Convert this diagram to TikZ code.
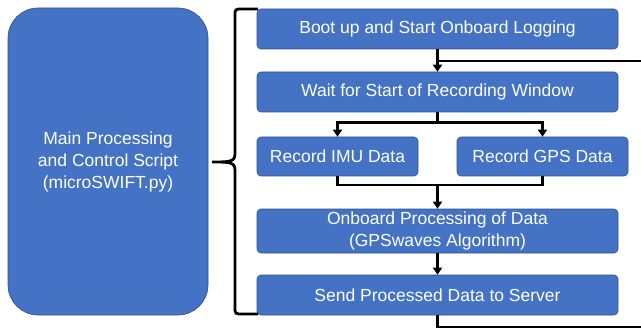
\documentclass[tikz,border=0pt]{standalone}
\usepackage{fontspec}
\setmainfont{Liberation Sans}
\usetikzlibrary{arrows.meta}
\definecolor{boxblue}{HTML}{4472C4}
\definecolor{boxedge}{HTML}{2F528F}

\begin{document}
\begin{tikzpicture}
[x=1pt,y=-1pt,
box/.style={rectangle,rounded corners=4pt,draw=boxedge,line width=0.6pt,fill=boxblue,
  text=white,align=center,inner sep=0pt,minimum width=361pt,minimum height=40pt,
  font=\fontsize{17.5}{22}\selectfont},
line/.style={draw,line width=2.8pt},
arr/.style={line,-{Triangle[width=9pt,length=7pt]}}]
\useasboundingbox (0,0) rectangle (641,329);
\node[box,rounded corners=30pt,minimum width=200pt,minimum height=307pt] (main) at (108,161.5)
  {Main Processing\\and Control Script\\(microSWIFT.py)};
\node[box] (boot) at (437.5,29) {Boot up and Start Onboard Logging};
\node[box] (wait) at (437.5,92) {Wait for Start of Recording Window};
\node[box,minimum width=161pt,minimum height=39pt] (imu) at (337.5,156.5) {Record IMU Data};
\node[box,minimum width=171pt,minimum height=39pt] (gps) at (542.5,156.5) {Record GPS Data};
\node[box,minimum height=44pt] (proc) at (437.5,231) {Onboard Processing of Data\\(GPSwaves Algorithm)};
\node[box] (send) at (437.5,295) {Send Processed Data to Server};
\coordinate (loopin) at (641,61);
\coordinate (loopout) at (641,327);
\coordinate (merge) at (437.5,185);
% brace
\draw[line] (258,9) -- (243,9) .. controls (235,9) .. (235,16) -- (235,154)
  .. controls (235,162) and (229,162) .. (212,162)
  .. controls (229,162) and (235,162) .. (235,170) -- (235,307)
  .. controls (235,314) .. (243,314) -- (258,314);
\draw[arr] (boot) -- (wait);
\draw[line] (loopin) -- (loopin -| boot.south);
\draw[arr] (wait.south) -- ++(0,10) -| (imu.north);
\draw[arr] (wait.south) -- ++(0,10) -| (gps.north);
\draw[line] (imu.south) |- (merge) -| (gps.south);
\draw[arr] (merge) -- (proc);
\draw[arr] (proc) -- (send);
\draw[line] (send.south) |- (loopout);
\end{tikzpicture}
\end{document}
